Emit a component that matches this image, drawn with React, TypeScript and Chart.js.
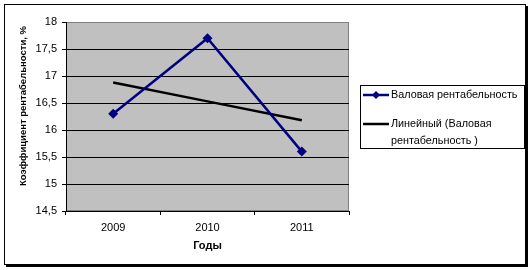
import React, { useEffect, useRef } from "react";
import { Chart, registerables } from "chart.js";

Chart.register(...registerables);

const categories = ["2009", "2010", "2011"];
const grossProfitability = [16.3, 17.7, 15.6];
const linearTrend = [16.88, 16.53, 16.18];
const yTicks = [14.5, 15, 15.5, 16, 16.5, 17, 17.5, 18];
const seriesLabel = "Валовая рентабельность";
const trendLabelLines = ["Линейный (Валовая", "рентабельность )"];
const yTitle = "Коэффициент рентабельности, %";
const xTitle = "Годы";

const FONT = "'Liberation Sans', Arial, sans-serif";
const NAVY = "#000080";

const decorPlugin = {
  id: "decor",
  beforeDraw(chart: any) {
    const ctx = chart.ctx;
    const { left, top, right, bottom } = chart.chartArea;
    ctx.save();
    ctx.fillStyle = "#ffffff";
    ctx.fillRect(0, 0, chart.width, chart.height);
    // outer frame with shadow
    ctx.fillStyle = "#000";
    ctx.fillRect(6, 265, 522, 2);
    ctx.fillRect(526, 6, 2, 261);
    ctx.strokeStyle = "#000";
    ctx.lineWidth = 1;
    ctx.strokeRect(4.5, 4.5, 521, 260);
    // plot area
    ctx.fillStyle = "#c0c0c0";
    ctx.fillRect(left, top, right - left, bottom - top);
    ctx.strokeStyle = "#808080";
    ctx.strokeRect(left + 0.5, top + 0.5, right - left - 1, bottom - top - 1);
    ctx.restore();
  },
  afterDraw(chart: any) {
    const ctx = chart.ctx;
    ctx.save();
    // y title
    ctx.fillStyle = "#000";
    ctx.font = `bold 9.5px ${FONT}`;
    ctx.textAlign = "center";
    ctx.textBaseline = "middle";
    ctx.translate(23, 106);
    ctx.rotate(-Math.PI / 2);
    ctx.fillText(yTitle, 0, 0);
    ctx.restore();

    ctx.save();
    ctx.fillStyle = "#000";
    ctx.font = `bold 11px ${FONT}`;
    ctx.textAlign = "center";
    ctx.textBaseline = "middle";
    const { left, right } = chart.chartArea;
    ctx.fillText(xTitle, (left + right) / 2, 246);

    // legend
    ctx.strokeStyle = "#000";
    ctx.lineWidth = 1;
    ctx.strokeRect(360.5, 85.5, 164, 63);
    ctx.font = `10.8px ${FONT}`;
    ctx.textAlign = "left";
    const ds0 = chart.data.datasets[0];
    const ds1 = chart.data.datasets[1];
    // item 1
    ctx.strokeStyle = ds0.borderColor;
    ctx.lineWidth = 2.5;
    ctx.beginPath();
    ctx.moveTo(363, 95);
    ctx.lineTo(389, 95);
    ctx.stroke();
    ctx.fillStyle = ds0.backgroundColor;
    ctx.beginPath();
    ctx.moveTo(376, 91);
    ctx.lineTo(380, 95);
    ctx.lineTo(376, 99);
    ctx.lineTo(372, 95);
    ctx.closePath();
    ctx.fill();
    ctx.fillStyle = "#000";
    ctx.fillText(seriesLabel, 391, 95);
    // item 2
    ctx.strokeStyle = ds1.borderColor;
    ctx.lineWidth = 2.5;
    ctx.beginPath();
    ctx.moveTo(363, 124);
    ctx.lineTo(389, 124);
    ctx.stroke();
    ctx.fillText(trendLabelLines[0], 391, 124);
    ctx.fillText(trendLabelLines[1], 391, 141);
    ctx.restore();
  },
};

export default function App() {
  const ref = useRef<HTMLCanvasElement>(null);
  useEffect(() => {
    document.body.style.margin = "0";
    const chart = new Chart(ref.current as HTMLCanvasElement, {
      type: "line",
      data: {
        labels: categories,
        datasets: [
          {
            label: seriesLabel,
            data: grossProfitability,
            borderColor: NAVY,
            backgroundColor: NAVY,
            borderWidth: 2.5,
            pointStyle: "rectRot",
            pointRadius: 5,
            pointBorderWidth: 0,
            tension: 0,
          },
          {
            label: trendLabelLines.join(" "),
            data: linearTrend,
            borderColor: "#000000",
            backgroundColor: "#000000",
            borderWidth: 2.5,
            pointRadius: 0,
            tension: 0,
          },
        ],
      },
      options: {
        responsive: false,
        animation: false,
        devicePixelRatio: 1,
        layout: { padding: { left: 4, top: 22, right: 183, bottom: 9 } },
        plugins: { legend: { display: false }, tooltip: { enabled: false } },
        scales: {
          x: {
            type: "category",
            offset: true,
            afterFit: (s: any) => {
              s.height = 50;
            },
            grid: {
              offset: true,
              drawOnChartArea: false,
              tickLength: 4,
              tickColor: "#000",
              color: "#000",
            },
            border: { display: true, color: "#000", width: 1 },
            ticks: {
              font: { family: FONT, size: 11 },
              color: "#000",
              padding: 6,
              maxRotation: 0,
            },
          },
          y: {
            min: 14.5,
            max: 18,
            afterFit: (s: any) => {
              s.width = 62;
            },
            afterBuildTicks: (s: any) => {
              s.ticks = yTicks.map((v) => ({ value: v }));
            },
            grid: {
              color: (c: any) => (c.tick && c.tick.value === 18 ? "#808080" : "#000"),
              tickColor: "#000",
              tickLength: 4,
            },
            border: { display: true, color: "#000", width: 1 },
            ticks: {
              font: { family: FONT, size: 11 },
              color: "#000",
              padding: 5,
              callback: (v: any) => String(v).replace(".", ","),
            },
          },
        },
      },
      plugins: [decorPlugin],
    });
    return () => chart.destroy();
  }, []);
  return <canvas ref={ref} width={532} height={270} style={{ display: "block" }} />;
}
